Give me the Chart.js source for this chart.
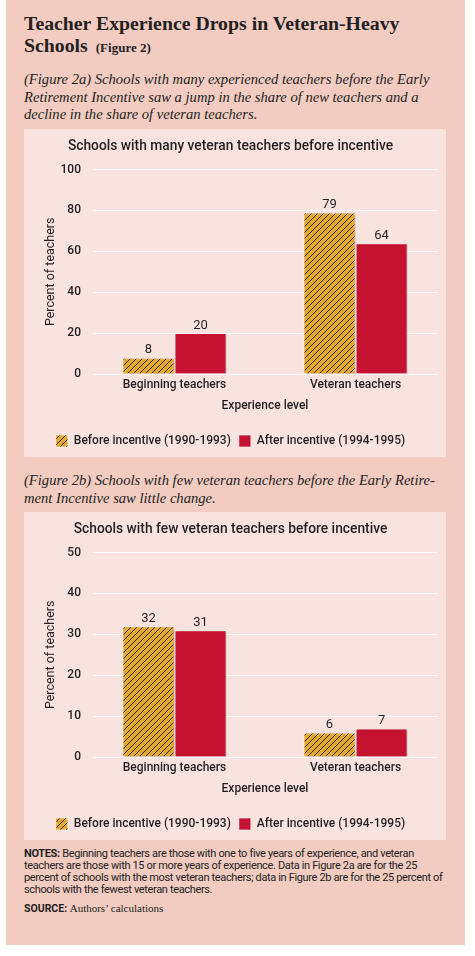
<!DOCTYPE html>
<html>
<head>
<meta charset="utf-8">
<script src="https://cdn.jsdelivr.net/npm/chart.js@4.4.1/dist/chart.umd.min.js"></script>
<style>
  html, body { margin: 0; padding: 0; background: #fff; }
  body { width: 475px; height: 956px; position: relative; color: #231f20; }
  .painel { position: absolute; left: 6px; top: 0; width: 459px; height: 945px; background: #f2cbc1; }
  .abs { position: absolute; margin: 0; }
  h1 { font-family: "Liberation Serif", serif; font-weight: bold; font-size: 19.8px; line-height: 22px; left: 24px; top: 12px; width: 420px; }
  h1 small { font-size: 13px; margin-left: 8px; }
  .sub { font-family: "Liberation Serif", serif; font-style: italic; font-size: 14.6px; line-height: 17.5px; left: 24px; width: 425px; }
  .caixa { position: absolute; left: 24px; width: 422px; height: 328px; background: #f9e3de; }
  .notas { font-family: Roboto, sans-serif; font-size: 11px; letter-spacing: -0.35px; line-height: 12px; left: 24px; top: 848px; width: 422px; }
  .fonte { font-family: Roboto, sans-serif; font-size: 10.5px; left: 24px; top: 902px; }
  .fonte span { font-family: "Liberation Serif", serif; font-size: 11px; }
</style>
</head>
<body>
<div class="painel"></div>
<h1 class="abs">Teacher Experience Drops in Veteran-Heavy Schools<small>(Figure 2)</small></h1>
<p class="abs sub" style="top:71px">(Figure 2a) Schools with many experienced teachers before the Early Retirement Incentive saw a jump in the share of new teachers and a decline in the share of veteran teachers.</p>
<div class="caixa" style="top:129px"><canvas id="grafico-a" width="422" height="328"></canvas></div>
<p class="abs sub" style="top:472px">(Figure 2b) Schools with few veteran teachers before the Early Retire-ment Incentive saw little change.</p>
<div class="caixa" style="top:512px"><canvas id="grafico-b" width="422" height="328"></canvas></div>
<p class="abs notas"><b>NOTES:</b> Beginning teachers are those with one to five years of experience, and veteran teachers are those with 15 or more years of experience. Data in Figure 2a are for the 25 percent of schools with the most veteran teachers; data in Figure 2b are for the 25 percent of schools with the fewest veteran teachers.</p>
<p class="abs fonte"><b>SOURCE:</b> <span>Authors’ calculations</span></p>

<script>
// dados
const categorias = ["Beginning teachers", "Veteran teachers"];
const legendas = ["Before incentive (1990-1993)", "After incentive (1994-1995)"];
const muitosAntes = [8, 79];
const muitosDepois = [20, 64];
const poucosAntes = [32, 6];
const poucosDepois = [31, 7];
const ticksA = { max: 100, passo: 20 };
const ticksB = { max: 50, passo: 10 };

const COR_TEXTO = "#231f20";
const VERMELHO = "#c41230";
const DOURADO = "#e1a92e";
const FONTE = "Roboto, sans-serif";

// hachura diagonal das barras "antes"
function hachura() {
  const c = document.createElement("canvas");
  c.width = 6; c.height = 6;
  const g = c.getContext("2d");
  g.fillStyle = DOURADO;
  g.fillRect(0, 0, 6, 6);
  g.strokeStyle = "#3a2c12";
  g.lineWidth = 1;
  g.beginPath();
  g.moveTo(-1, 7); g.lineTo(7, -1);
  g.moveTo(-1, 1); g.lineTo(1, -1);
  g.moveTo(5, 7); g.lineTo(7, 5);
  g.stroke();
  return g.createPattern(c, "repeat");
}

// sombra leve nas barras + rótulos de valor
const sombraBarras = {
  id: "sombraBarras",
  beforeDatasetsDraw(chart) {
    const ctx = chart.ctx;
    ctx.save();
    ctx.shadowColor = "rgba(60,20,20,0.28)";
    ctx.shadowBlur = 3;
    ctx.shadowOffsetX = 2;
    ctx.shadowOffsetY = 1;
  },
  afterDatasetsDraw(chart) {
    const ctx = chart.ctx;
    ctx.restore();
    ctx.save();
    ctx.font = `13px ${FONTE}`;
    ctx.fillStyle = COR_TEXTO;
    ctx.textAlign = "center";
    ctx.textBaseline = "bottom";
    chart.data.datasets.forEach((ds, i) => {
      chart.getDatasetMeta(i).data.forEach((bar, j) => {
        ctx.fillText(String(ds.data[j].y), bar.x, bar.y - 1);
      });
    });
    ctx.restore();
  }
};

// eixo x linear só para posicionar os grupos como no original
const pontos = (valores) => valores.map((v, i) => ({ x: i, y: v }));

function montarGrafico(id, titulo, antes, depois, ticks) {
  return new Chart(document.getElementById(id), {
    type: "bar",
    data: {
      datasets: [
        { label: legendas[0], data: pontos(antes), backgroundColor: hachura(), borderColor: "rgba(255,255,255,0.6)", borderWidth: 1 },
        { label: legendas[1], data: pontos(depois), backgroundColor: VERMELHO, borderColor: "rgba(255,255,255,0.6)", borderWidth: 1 }
      ]
    },
    plugins: [sombraBarras],
    options: {
      responsive: false,
      animation: false,
      devicePixelRatio: 1,
      layout: { padding: { left: 0, right: 9, top: 0, bottom: 0 } },
      datasets: { bar: { categoryPercentage: 0.575, barPercentage: 1 } },
      plugins: {
        tooltip: { enabled: false },
        title: { display: true, text: titulo, color: COR_TEXTO, font: { family: FONTE, size: 13.8, weight: "500" }, padding: { top: 9, bottom: 15 } },
        legend: {
          position: "bottom",
          labels: { color: COR_TEXTO, font: { family: FONTE, size: 12, weight: "500" }, boxWidth: 12, boxHeight: 12, padding: 8 }
        }
      },
      scales: {
        x: {
          type: "linear",
          min: -0.45,
          max: 1.45,
          offset: false,
          grid: { display: false, drawTicks: false, offset: false },
          border: { display: false },
          afterBuildTicks: (s) => { s.ticks = categorias.map((_, i) => ({ value: i })); },
          ticks: { color: COR_TEXTO, font: { family: FONTE, size: 12, weight: "500" }, padding: 4, callback: (v) => categorias[v] },
          title: { display: true, text: "Experience level", color: COR_TEXTO, font: { family: FONTE, size: 12, weight: "500" }, padding: { top: 0, bottom: 14 } },
          afterFit: (s) => { s.height = 53; }
        },
        y: {
          min: 0,
          max: ticks.max,
          grid: { color: "#ffffff", lineWidth: 1, drawTicks: false },
          border: { display: false },
          ticks: { stepSize: ticks.passo, color: COR_TEXTO, font: { family: FONTE, size: 12, weight: "500" }, padding: 12 },
          title: { display: true, text: "Percent of teachers", color: COR_TEXTO, font: { family: FONTE, size: 12.5 }, padding: { top: 19, bottom: 0 } },
          afterFit: (s) => { s.width = 69; }
        }
      }
    }
  });
}

montarGrafico("grafico-a", "Schools with many veteran teachers before incentive", muitosAntes, muitosDepois, ticksA);
montarGrafico("grafico-b", "Schools with few veteran teachers before incentive", poucosAntes, poucosDepois, ticksB);
</script>
</body>
</html>
